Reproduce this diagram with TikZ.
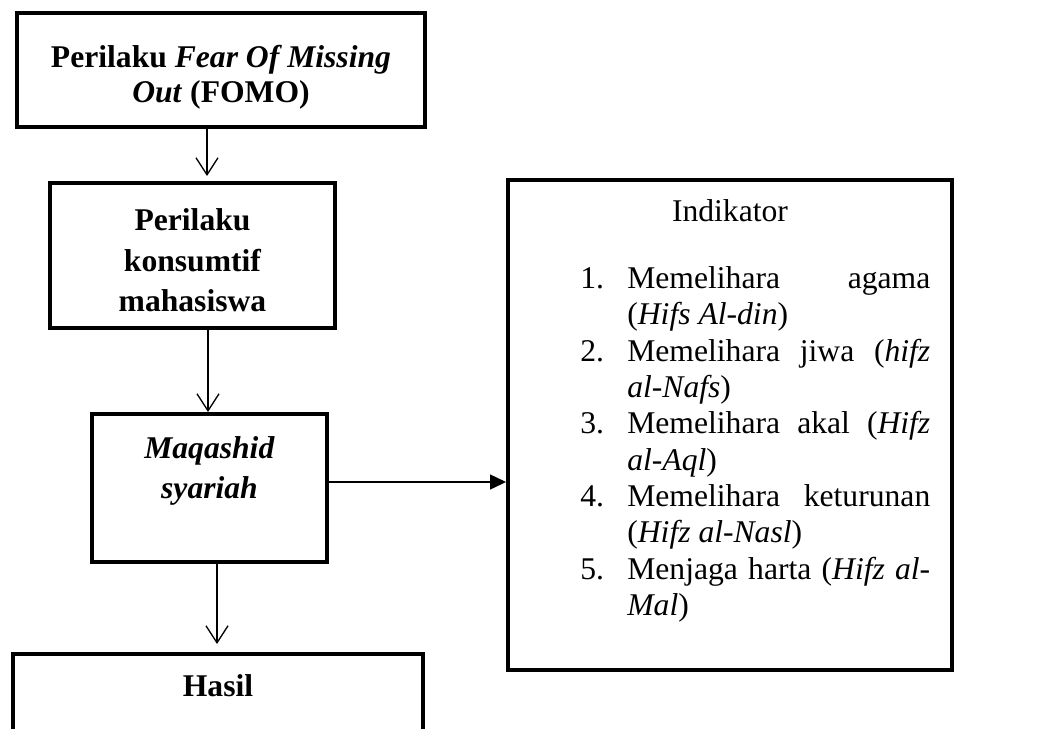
\documentclass[tikz,border=0pt]{standalone}
\usepackage{fontspec}
\setmainfont{Liberation Serif}
\usetikzlibrary{arrows.meta,positioning}
\tikzset{
    >={Straight Barb[length=0.34cm,width=0.44cm]},
    kotak/.style={
           rectangle,
           draw=black, line width=2.3pt,
           inner sep=0pt,
           align=center,
           font=\fontsize{18}{23.2}\selectfont\bfseries},
    pil/.style={
           ->,
           line width=0.75pt},
    pilpenuh/.style={
           -{Triangle[length=0.32cm,width=0.3cm]},
           line width=0.75pt}
}
\newcommand{\baris}[2]{\makebox[0.94cm][l]{#1}\makebox[6.06cm][s]{#2}}
\newcommand{\lanjut}[1]{\hspace*{0.94cm}#1}

\begin{document}
\begin{tikzpicture}[x=0.02cm, y=-0.02cm]
        \useasboundingbox (0,0) rectangle (1059,728);
        \clip (0,0) rectangle (1059,728);
        \node[kotak, font=\fontsize{18}{19.9}\selectfont\bfseries, minimum width=8.16cm, minimum height=2.28cm] (fomo) at (221,70) {\rule{0pt}{0.75cm}Perilaku \textit{Fear Of Missing}\\\textit{Out} (FOMO)};
        \node[kotak, minimum width=5.7cm, minimum height=2.9cm] (konsumtif) at (192.5,255.5) {\rule{0pt}{0.63cm}Perilaku\\konsumtif\\mahasiswa};
        \node[kotak, minimum width=4.7cm, minimum height=2.96cm] (maqashid) at (209.5,488) {\textit{Maqashid}\\\textit{syariah}\\\mbox{}};
        \node[kotak, anchor=north, minimum width=8.2cm, inner ysep=0.42cm, text depth=3cm] (hasil) at (218,652) {Hasil};
        \node[kotak, font=\fontsize{18}{20.7}\selectfont, anchor=north, minimum width=8.88cm, inner ysep=0.4cm, text depth=8.56cm] (indikator) at (730,178) {Indikator};
        \node[anchor=north west, inner sep=0pt, align=left, font=\fontsize{18}{20.7}\selectfont] (daftar) at (580,266) {%
            \baris{1.}{Memelihara agama}\\
            \lanjut{(\textit{Hifs Al-din})}\\
            \baris{2.}{Memelihara jiwa (\textit{hifz}}\\
            \lanjut{\textit{al-Nafs})}\\
            \baris{3.}{Memelihara akal (\textit{Hifz}}\\
            \lanjut{\textit{al-Aql})}\\
            \baris{4.}{Memelihara keturunan}\\
            \lanjut{(\textit{Hifz al-Nasl})}\\
            \baris{5.}{Menjaga harta (\textit{Hifz al-}}\\
            \lanjut{\textit{Mal})}};
        \draw[pil, shorten >=0.1cm] ([xshift=-0.28cm]fomo.south) -- ([xshift=-0.28cm]fomo.south |- konsumtif.north);
        \draw[pil] ([xshift=0.31cm]konsumtif.south) -- ([xshift=0.31cm]konsumtif.south |- maqashid.north);
        \draw[pil, shorten >=0.16cm] ([xshift=0.15cm]maqashid.south) -- ([xshift=0.15cm]maqashid.south |- hasil.north);
        \draw[pilpenuh] ([yshift=0.12cm]maqashid.east) -- ([yshift=0.12cm]maqashid.east -| indikator.west);
    \end{tikzpicture}
\end{document}
